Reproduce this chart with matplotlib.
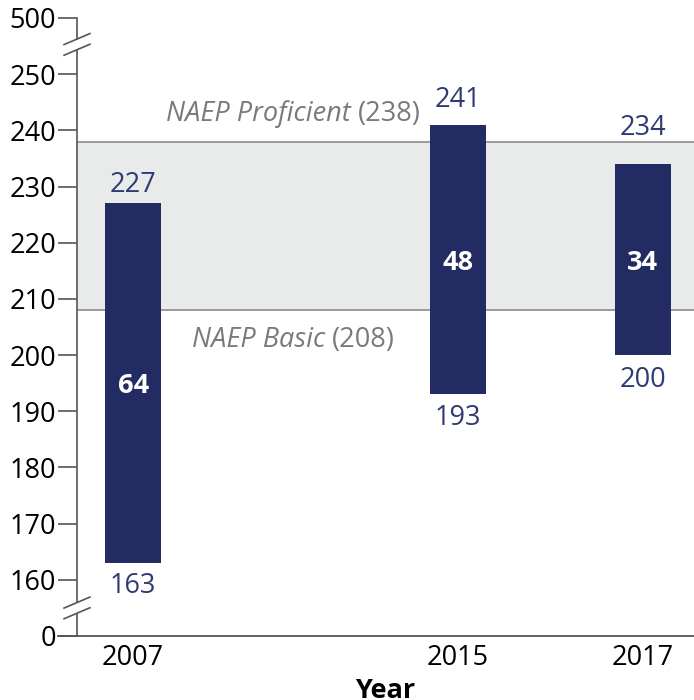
import numpy as np
import matplotlib.pyplot as plt
import matplotlib.transforms as mtransforms

plt.rcParams['font.family'] = ['Open Sans', 'DejaVu Sans']

# data
years = ['2007', '2015', '2017']
low = [163, 193, 200]
high = [227, 241, 234]
basic = 208
proficient = 238
ytick_vals = [0, 160, 170, 180, 190, 200, 210, 220, 230, 240, 250, 500]

# layout (axis fraction positions of the bars, pixel offsets for labels)
xpos = [0.091, 0.617, 0.917]
bar_w = 0.091
top_pad = [18, 24.5, 36.5]
bot_pad = [23, 24, 25]

BAR = '#232c62'
LAB = '#2e3a72'
FS = 19.5


def to_axis(v):
    # broken axis: 0 sits 10 units below 160, 500 sits 10 units above 250
    if v == 0:
        return 150
    if v == 500:
        return 260
    return v


fig = plt.figure(figsize=(6.94, 7.0), dpi=100)
ax = fig.add_axes([77 / 694, 64 / 700, 617 / 694, 618 / 700])
ax.set_xlim(0, 1)
ax.set_ylim(150, 260)

# proficiency band
ax.axhspan(basic, proficient, color='#e9ebeb', zorder=0, lw=0)
ax.axhline(basic, color='#8c8c8c', lw=1.2, zorder=1)
ax.axhline(proficient, color='#8c8c8c', lw=1.2, zorder=1)

ax.text(0.444, 242.9, 'NAEP Proficient', style='italic', color='#7a7a7a',
        fontsize=FS, ha='right', va='center')
ax.text(0.455, 242.9, '(238)', color='#7a7a7a', fontsize=FS, ha='left', va='center')
ax.text(0.402, 202.6, 'NAEP Basic', style='italic', color='#7a7a7a',
        fontsize=FS, ha='right', va='center')
ax.text(0.413, 202.6, '(208)', color='#7a7a7a', fontsize=FS, ha='left', va='center')

# bars
heights = [h - l for h, l in zip(high, low)]
ax.bar(xpos, heights, bottom=low, width=bar_w, color=BAR, zorder=3)
for i in range(len(years)):
    ax.annotate(str(high[i]), (xpos[i], high[i]), xytext=(0, top_pad[i] * 0.72),
                textcoords='offset points', ha='center', va='center',
                color=LAB, fontsize=FS)
    ax.annotate(str(low[i]), (xpos[i], low[i]), xytext=(0, -bot_pad[i] * 0.72),
                textcoords='offset points', ha='center', va='center',
                color=LAB, fontsize=FS)
    ax.annotate(str(heights[i]), (xpos[i], (high[i] + low[i]) / 2), xytext=(0, -2.2),
                textcoords='offset points', ha='center', va='center',
                color='white', fontsize=FS, fontweight='bold', zorder=4)

# axes styling
for s in ['top', 'right', 'left']:
    ax.spines[s].set_visible(False)
ax.spines['bottom'].set_color('#555555')
ax.spines['bottom'].set_linewidth(1.3)
ax.spines['bottom'].set_bounds(-0.031, 1)
ax.spines['bottom'].set_clip_on(False)

ax.set_yticks([to_axis(v) for v in ytick_vals])
ax.set_yticklabels([str(v) for v in ytick_vals])
ax.tick_params(axis='y', length=13.5, width=1.2, color='#555555', pad=1.5,
               labelsize=FS, labelcolor='black')
ax.set_xticks(xpos)
ax.set_xticklabels(years)
ax.tick_params(axis='x', length=0, pad=6, labelsize=FS)
ax.set_xlabel('Year', fontsize=19.5, fontweight='bold', labelpad=4)

# left axis line with gaps for the breaks
tr = mtransforms.blended_transform_factory(ax.transAxes, ax.transData)
segs = [(260, 256.3), (254.3, 156.0), (154.0, 150)]
for a, b in segs:
    ax.plot([0, 0], [a, b], color='#555555', lw=1.2, transform=tr, clip_on=False, zorder=5)
for c in [255.3, 155.0]:
    for d in [-0.95, 0.95]:
        ax.plot([-0.021, 0.021], [c + d - 0.98, c + d + 0.98], color='#555555',
                lw=1.2, transform=tr, clip_on=False, zorder=5)

fig.savefig('out.png', dpi=100)
